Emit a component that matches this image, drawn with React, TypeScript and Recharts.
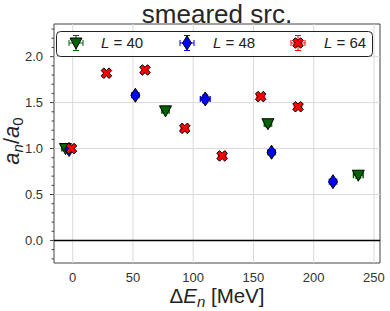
import React from 'react';
import {
  ScatterChart,
  Scatter,
  XAxis,
  YAxis,
  ReferenceLine,
  ReferenceArea,
  ErrorBar,
} from 'recharts';

// --- data ---
const l40X = [-6, 77, 162, 237];
const l40Y = [1.0, 1.41, 1.27, 0.71];
const l40Ex = [3, 3, 3, 4];
const l40Ey = [0.02, 0.02, 0.03, 0.03];

const l48X = [-3, 52, 110, 165, 216];
const l48Y = [0.99, 1.58, 1.54, 0.96, 0.64];
const l48Ex = [2, 3, 4, 3, 3];
const l48Ey = [0.02, 0.03, 0.04, 0.03, 0.03];

const l64X = [-1, 28, 60, 93, 124, 156, 187];
const l64Y = [1.0, 1.82, 1.855, 1.22, 0.92, 1.565, 1.455];
const l64Ex = [2, 2, 2, 3, 3, 3, 3];
const l64Ey = [0.02, 0.02, 0.02, 0.02, 0.02, 0.02, 0.02];

const xTicks = [0, 50, 100, 150, 200, 250];
const yMajor = [0, 0.5, 1, 1.5, 2];
const yTicks = [-0.2, -0.1, 0, 0.1, 0.2, 0.3, 0.4, 0.5, 0.6, 0.7, 0.8, 0.9, 1, 1.1, 1.2, 1.3, 1.4, 1.5, 1.6, 1.7, 1.8, 1.9, 2, 2.1, 2.2, 2.3];

const X_DOMAIN: [number, number] = [-15.5, 255];
const Y_DOMAIN: [number, number] = [-0.245, 2.355];

const FONT = '"Liberation Sans", Arial, sans-serif';
const GREEN = '#006400';
const BLUE = '#0000ff';
const RED = '#ff0000';

const zip = (xs: number[], ys: number[], ex: number[], ey: number[]) =>
  xs.map((x, i) => ({ x, y: ys[i], ex: ex[i], ey: ey[i] }));

const l40 = zip(l40X, l40Y, l40Ex, l40Ey);
const l48 = zip(l48X, l48Y, l48Ex, l48Ey);
const l64 = zip(l64X, l64Y, l64Ex, l64Ey);

// marker glyphs
function TriDown({ cx, cy }: { cx: number; cy: number }) {
  return (
    <polygon
      points={`${cx - 6},${cy - 5} ${cx + 6},${cy - 5} ${cx},${cy + 6}`}
      fill={GREEN}
      stroke="#000"
      strokeWidth={1}
    />
  );
}

function ThinDiamond({ cx, cy }: { cx: number; cy: number }) {
  return (
    <polygon
      points={`${cx},${cy - 7} ${cx + 4.5},${cy} ${cx},${cy + 7} ${cx - 4.5},${cy}`}
      fill={BLUE}
      stroke="#000"
      strokeWidth={1}
    />
  );
}

function FilledX({ cx, cy }: { cx: number; cy: number }) {
  // plus sign rotated by 45 degrees
  const a = 1.9;
  const l = 5.6;
  const base = [
    [-a, -l], [a, -l], [a, -a], [l, -a], [l, a], [a, a],
    [a, l], [-a, l], [-a, a], [-l, a], [-l, -a], [-a, -a],
  ];
  const c = Math.SQRT1_2;
  const pts = base
    .map(([px, py]) => `${cx + (px - py) * c},${cy + (px + py) * c}`)
    .join(' ');
  return <polygon points={pts} fill={RED} stroke="#000" strokeWidth={1} />;
}

function YTick(props: any) {
  const { x, y, payload } = props;
  const v = payload.value as number;
  const major = yMajor.some((m) => Math.abs(m - v) < 1e-6);
  return (
    <g>
      <line x1={x - (major ? 4 : 2.5)} x2={x} y1={y} y2={y} stroke="#444" strokeWidth={1} />
      {major && (
        <text x={x - 11} y={y + 4.7} textAnchor="end" fontSize={13} fill="#333" fontFamily={FONT}>
          {v.toFixed(1)}
        </text>
      )}
    </g>
  );
}

function XTick(props: any) {
  const { x, y, payload } = props;
  return (
    <text x={x} y={y + 19} textAnchor="middle" fontSize={13} fill="#333" fontFamily={FONT}>
      {payload.value}
    </text>
  );
}

function LegendGlyph({ cx, cy, color, children }: { cx: number; cy: number; color: string; children: React.ReactNode }) {
  return (
    <g>
      <line x1={cx - 7} x2={cx + 7} y1={cy} y2={cy} stroke={color} />
      <line x1={cx - 7} x2={cx - 7} y1={cy - 3} y2={cy + 3} stroke={color} />
      <line x1={cx + 7} x2={cx + 7} y1={cy - 3} y2={cy + 3} stroke={color} />
      <line x1={cx} x2={cx} y1={cy - 7.5} y2={cy + 7.5} stroke={color} />
      <line x1={cx - 3} x2={cx + 3} y1={cy - 7.5} y2={cy - 7.5} stroke={color} />
      <line x1={cx - 3} x2={cx + 3} y1={cy + 7.5} y2={cy + 7.5} stroke={color} />
      {children}
    </g>
  );
}

const legendItems = [
  { label: '40', color: GREEN, mx: 76, tx: 101 },
  { label: '48', color: BLUE, mx: 187, tx: 213 },
  { label: '64', color: RED, mx: 298, tx: 324 },
];

export default function App() {
  return (
    <div style={{ position: 'absolute', left: 0, top: 0, width: 390, height: 311, background: '#fff' }}>
      <ScatterChart width={390} height={311} margin={{ top: 24, right: 10, bottom: 0, left: 0 }}>
        <XAxis
          type="number"
          dataKey="x"
          domain={X_DOMAIN}
          ticks={xTicks}
          allowDataOverflow
          height={48}
          tickSize={0}
          tickMargin={0}
          axisLine={false}
          tick={<XTick />}
        />
        <YAxis
          type="number"
          dataKey="y"
          domain={Y_DOMAIN}
          ticks={yTicks}
          allowDataOverflow
          width={54}
          tickSize={0}
          tickMargin={0}
          axisLine={false}
          interval={0}
          tick={<YTick />}
        />
        {xTicks.map((t) => (
          <ReferenceLine key={'gx' + t} x={t} stroke="#dadada" strokeWidth={1} />
        ))}
        {yMajor.map((t) => (
          <ReferenceLine key={'gy' + t} y={t} stroke="#dadada" strokeWidth={1} />
        ))}
        <ReferenceLine y={0} stroke="#000" strokeWidth={1.5} />
        <ReferenceArea
          x1={X_DOMAIN[0]}
          x2={X_DOMAIN[1]}
          y1={Y_DOMAIN[0]}
          y2={Y_DOMAIN[1]}
          fill="none"
          fillOpacity={0}
          stroke="#444"
          strokeWidth={1}
        />
        <Scatter data={l40} isAnimationActive={false} shape={(p: any) => <TriDown cx={p.cx} cy={p.cy} />}>
          <ErrorBar dataKey="ex" direction="x" stroke={GREEN} width={3} />
          <ErrorBar dataKey="ey" direction="y" stroke={GREEN} width={3} />
        </Scatter>
        <Scatter data={l48} isAnimationActive={false} shape={(p: any) => <ThinDiamond cx={p.cx} cy={p.cy} />}>
          <ErrorBar dataKey="ex" direction="x" stroke={BLUE} width={3} />
          <ErrorBar dataKey="ey" direction="y" stroke={BLUE} width={3} />
        </Scatter>
        <Scatter data={l64} isAnimationActive={false} shape={(p: any) => <FilledX cx={p.cx} cy={p.cy} />}>
          <ErrorBar dataKey="ex" direction="x" stroke={RED} width={3} />
          <ErrorBar dataKey="ey" direction="y" stroke={RED} width={3} />
        </Scatter>
      </ScatterChart>
      <svg
        width={390}
        height={311}
        style={{ position: 'absolute', left: 0, top: 0, pointerEvents: 'none' }}
        fontFamily={FONT}
      >
        <text x={217} y={22.7} textAnchor="middle" fontSize={26} fill="#262626">
          smeared src.
        </text>
        <rect x={56.5} y={31.5} width={316} height={25} rx={4} fill="#fff" fillOpacity={0.85} stroke="#222" strokeWidth={1} />
        {legendItems.map((it) => (
          <g key={it.label}>
            <LegendGlyph cx={it.mx} cy={43} color={it.color}>
              {it.color === GREEN && <TriDown cx={it.mx} cy={43} />}
              {it.color === BLUE && <ThinDiamond cx={it.mx} cy={43} />}
              {it.color === RED && <FilledX cx={it.mx} cy={43} />}
            </LegendGlyph>
            <text x={it.tx} y={47.5} fontSize={15} fill="#222">
              <tspan fontStyle="italic">L</tspan>
              <tspan> = {it.label}</tspan>
            </text>
          </g>
        ))}
        <text x={217} y={303} textAnchor="middle" fontSize={20.5} fill="#222">
          <tspan>Δ</tspan>
          <tspan fontStyle="italic">E</tspan>
          <tspan fontStyle="italic" fontSize={15} dy={4}>n</tspan>
          <tspan dy={-4}> [MeV]</tspan>
        </text>
        <text transform="translate(19,141) rotate(-90)" textAnchor="middle" fontSize={22} fill="#222">
          <tspan fontStyle="italic">a</tspan>
          <tspan fontStyle="italic" fontSize={15} dy={4}>n</tspan>
          <tspan dy={-4}>/</tspan>
          <tspan fontStyle="italic">a</tspan>
          <tspan fontSize={15} dy={4}>0</tspan>
        </text>
      </svg>
    </div>
  );
}
